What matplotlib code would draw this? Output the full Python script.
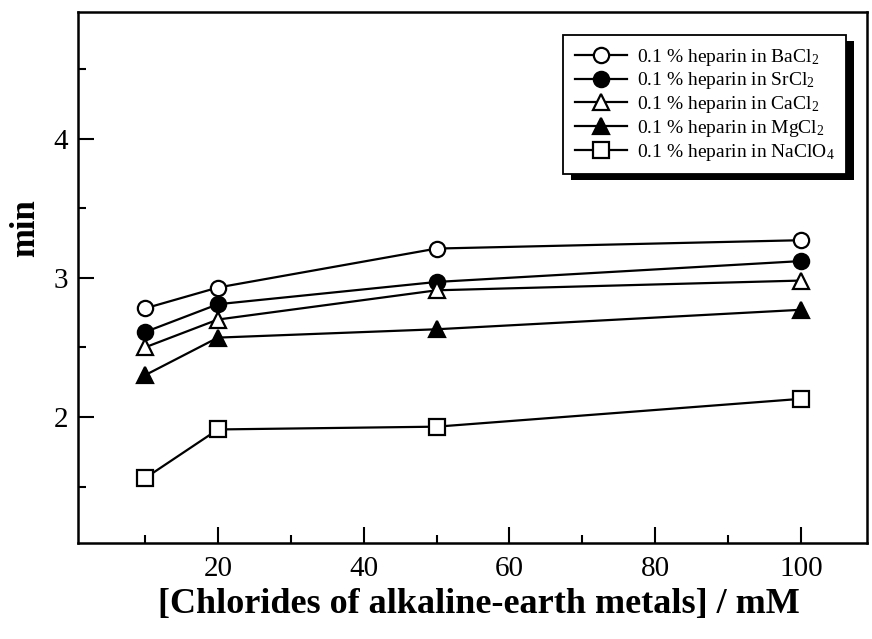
import matplotlib
matplotlib.use("Agg")
import matplotlib.pyplot as plt
from matplotlib.patches import Rectangle
from matplotlib.transforms import IdentityTransform

plt.rcParams['font.family'] = ['Liberation Serif', 'DejaVu Serif']
plt.rcParams['mathtext.fontset'] = 'custom'
plt.rcParams['mathtext.rm'] = 'Liberation Serif'
plt.rcParams['mathtext.it'] = 'Liberation Serif:italic'
plt.rcParams['mathtext.bf'] = 'Liberation Serif:bold'

conc = [10, 20, 50, 100]
ba = [2.78, 2.93, 3.21, 3.27]
sr = [2.61, 2.81, 2.97, 3.12]
ca = [2.50, 2.70, 2.91, 2.98]
mg = [2.30, 2.57, 2.63, 2.77]
na = [1.56, 1.91, 1.93, 2.13]

labels = ["0.1 % heparin in BaCl$_2$", "0.1 % heparin in SrCl$_2$",
          "0.1 % heparin in CaCl$_2$", "0.1 % heparin in MgCl$_2$",
          "0.1 % heparin in NaClO$_4$"]
series = [ba, sr, ca, mg, na]
markers = ['o', 'o', '^', '^', 's']
faces = ['white', 'black', 'white', 'black', 'white']
msizes = [11, 11, 12, 12, 12]

fig = plt.figure(figsize=(8.72, 6.39), dpi=100)
ax = fig.add_axes([78/872, 1 - 543/639, (867-78)/872, (543-12)/639])

for y, m, fc, ms, lab in zip(series, markers, faces, msizes, labels):
    ax.plot(conc, y, color='black', lw=1.6, marker=m, ms=ms, mfc=fc,
            mec='black', mew=1.6, label=lab, zorder=3)

ax.set_xlim(0.8, 109.05)
ax.set_ylim(1.094, 4.91)
ax.set_xticks([20, 40, 60, 80, 100])
ax.set_xticks([10, 30, 50, 70, 90], minor=True)
ax.set_yticks([2, 3, 4])
ax.set_yticks([1.5, 2.5, 3.5, 4.5], minor=True)
ax.tick_params(which='major', direction='in', length=11.5, width=1.5,
               labelsize=21, top=False, right=False)
ax.tick_params(which='minor', direction='in', length=6, width=1.5,
               top=False, right=False)
ax.tick_params(axis='x', which='major', pad=9)
ax.tick_params(axis='y', which='major', pad=7)
for s in ax.spines.values():
    s.set_linewidth(1.8)

ax.set_xlabel("[Chlorides of alkaline-earth metals] / mM", fontsize=26,
              fontweight='bold')
ax.xaxis.set_label_coords((479-78)/789, -(605-543)/531)
ax.xaxis.label.set_verticalalignment('center')
ax.set_ylabel("min", fontsize=25, fontweight='bold')
ax.yaxis.set_label_coords((26-78)/789, (543-228)/531)
ax.yaxis.label.set_verticalalignment('center')

leg = ax.legend(loc='upper left', bbox_to_anchor=((563-78)/789, (543-35)/531),
                borderaxespad=0, fontsize=14, numpoints=1, handlelength=2.7,
                handletextpad=0.5, labelspacing=0.14, borderpad=0.6,
                fancybox=False, framealpha=1, edgecolor='black')
leg.get_frame().set_linewidth(1.3)
leg.set_zorder(6)

fig.canvas.draw()
bb = leg.get_window_extent()
shadow = Rectangle((bb.x0 + 8, bb.y0 - 6), bb.width, bb.height,
                   transform=IdentityTransform(), facecolor='black',
                   edgecolor='none', zorder=5.5, clip_on=False)
ax.add_artist(shadow)

fig.savefig("out.png", dpi=100)
